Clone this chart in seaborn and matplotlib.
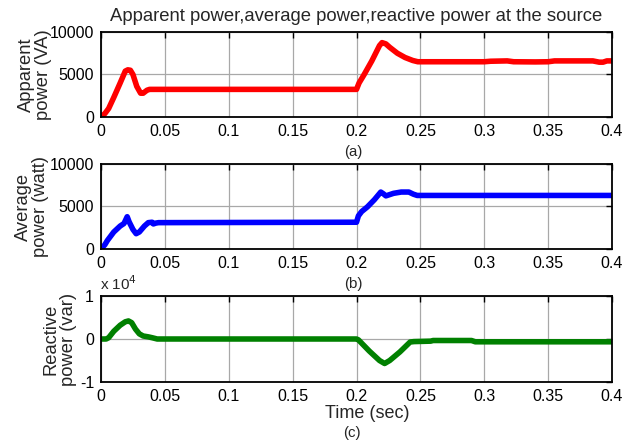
import matplotlib
matplotlib.use("Agg")
import matplotlib.pyplot as plt
import seaborn as sns
import numpy as np

# ---- data ----
t_apparent = [0, 0.003, 0.006, 0.010, 0.015, 0.019, 0.021, 0.023, 0.025, 0.028, 0.031, 0.033,
              0.036, 0.038, 0.1, 0.2, 0.202, 0.206, 0.212, 0.218, 0.220, 0.223, 0.226, 0.232,
              0.238, 0.244, 0.248, 0.3, 0.305, 0.318, 0.323, 0.34, 0.35, 0.355, 0.385, 0.39,
              0.393, 0.396, 0.4]
apparent_va = [0, 400, 1000, 2300, 4000, 5400, 5550, 5500, 5000, 3600, 2800, 2800,
               3150, 3250, 3250, 3250, 4000, 5000, 6600, 8400, 8750, 8600, 8200, 7500,
               7000, 6650, 6500, 6500, 6560, 6600, 6500, 6480, 6500, 6600, 6600, 6450,
               6450, 6600, 6600]

t_average = [0, 0.003, 0.005, 0.010, 0.015, 0.018, 0.0205, 0.022, 0.025, 0.0275, 0.030, 0.034,
             0.037, 0.040, 0.041, 0.043, 0.045, 0.2, 0.2015, 0.204, 0.2085, 0.214, 0.219, 0.221,
             0.223, 0.226, 0.229, 0.235, 0.241, 0.2445, 0.2475, 0.4]
average_w = [0, 500, 1000, 2000, 2700, 3000, 3800, 3200, 2300, 1800, 2000, 2700,
             3100, 3150, 2950, 3050, 3100, 3150, 3900, 4400, 4950, 5800, 6700, 6500,
             6250, 6400, 6550, 6700, 6700, 6450, 6300, 6300]

t_reactive = [0, 0.004, 0.006, 0.010, 0.015, 0.019, 0.0215, 0.024, 0.027, 0.030, 0.033, 0.037,
              0.040, 0.044, 0.2, 0.2015, 0.21, 0.218, 0.222, 0.226, 0.234, 0.242, 0.245,
              0.258, 0.26, 0.29, 0.293, 0.4]
reactive_var = [0, 0, 300, 1800, 3200, 4000, 4200, 3800, 2300, 1200, 700, 500,
                300, 0, 0, -200, -2800, -5000, -5700, -5000, -3000, -700, -600,
                -500, -350, -350, -650, -650]

x_ticks = [0, 0.05, 0.1, 0.15, 0.2, 0.25, 0.3, 0.35, 0.4]
x_ticklabels = ["0", "0.05", "0.1", "0.15", "0.2", "0.25", "0.3", "0.35", "0.4"]
power_ticks = [0, 5000, 10000]
reactive_ticks = [-1, 0, 1]
reactive_scale = 1e4

sns.set_style("white")
plt.rcParams['font.family'] = ['Liberation Sans', 'DejaVu Sans']

fig = plt.figure(figsize=(6.32, 4.45), dpi=100)
L, W, H = 101/632, 511/632, 85/445
ax1 = fig.add_axes([L, 1 - 117/445, W, H])
ax2 = fig.add_axes([L, 1 - 249/445, W, H])
ax3 = fig.add_axes([L, 1 - 382/445, W, 86/445])

lw = 4.0
sns.lineplot(x=t_apparent, y=apparent_va, ax=ax1, color="#ff0000", linewidth=lw,
             estimator=None, sort=False)
sns.lineplot(x=t_average, y=average_w, ax=ax2, color="#0000ff", linewidth=lw,
             estimator=None, sort=False)
sns.lineplot(x=t_reactive, y=np.array(reactive_var) / reactive_scale, ax=ax3,
             color="#008000", linewidth=lw, estimator=None, sort=False)

for ax in (ax1, ax2, ax3):
    ax.set_xlim(0, 0.4)
    ax.set_xticks(x_ticks)
    ax.set_xticklabels(x_ticklabels)
    ax.grid(True, color="#a8a8a8", linewidth=0.9)
    ax.set_axisbelow(True)
    for s in ax.spines.values():
        s.set_color("black")
        s.set_linewidth(1.3)
    ax.tick_params(direction="in", top=True, right=True, length=4, width=1,
                   labelsize=11.5, pad=5, colors="black")

for ax in (ax1, ax2):
    ax.set_ylim(0, 10000)
    ax.set_yticks(power_ticks)
    ax.set_yticklabels([str(v) for v in power_ticks])
ax3.set_ylim(-1, 1)
ax3.set_yticks(reactive_ticks)
ax3.set_yticklabels([str(v) for v in reactive_ticks])

lab_fs = 13.2
ax1.set_ylabel("Apparent\npower (VA)", fontsize=lab_fs, linespacing=1.0)
ax1.yaxis.set_label_coords(-0.095, 0.5)
ax2.set_ylabel("Average\npower (watt)", fontsize=lab_fs, linespacing=1.0)
ax2.yaxis.set_label_coords(-0.102, 0.5)
ax3.set_ylabel("Reactive\npower (var)", fontsize=lab_fs, linespacing=1.0)
ax3.yaxis.set_label_coords(-0.047, 0.5)

ax1.set_title("Apparent power,average power,reactive power at the source",
              fontsize=13.3, pad=8)

ax3.set_xlabel("Time (sec)", fontsize=13, labelpad=1)
ax3.xaxis.set_label_coords(0.522, -0.27)

fig.text(353/632, 1 - 152/445, "(a)", fontsize=10.8, ha="center", va="center")
fig.text(353/632, 1 - 284/445, "(b)", fontsize=10.8, ha="center", va="center")
fig.text(352/632, 1 - 433/445, "(c)", fontsize=10.8, ha="center", va="center")
fig.text(100/632, 1 - 284/445, "x 10$^4$", fontsize=11, ha="left", va="center")

fig.savefig("out.png", dpi=100)
